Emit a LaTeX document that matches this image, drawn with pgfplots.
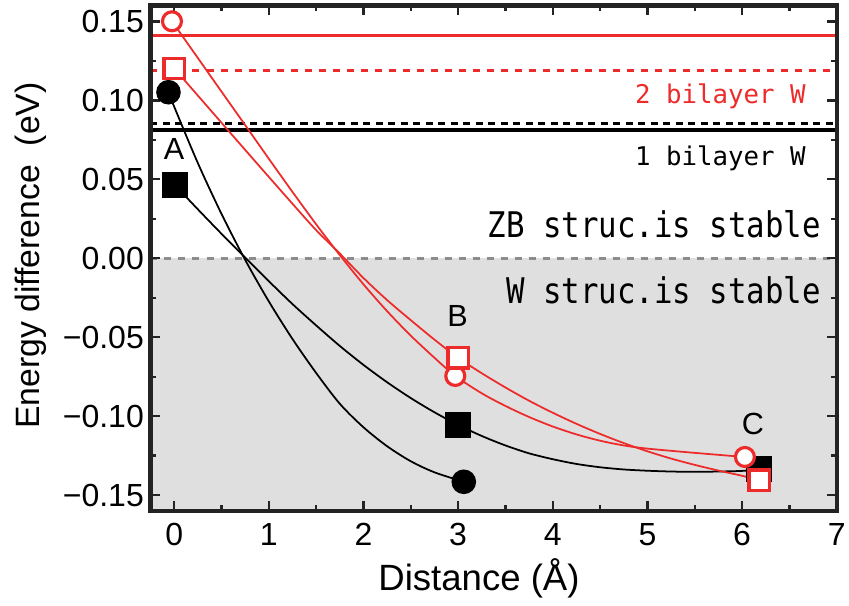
\documentclass[border=0pt]{standalone}
\usepackage{fontspec}
\setmainfont{Liberation Sans}
\newfontfamily\monofont{DejaVu Sans Mono}
\usepackage{graphicx}
\usepackage{pgfplots}
\pgfplotsset{compat=1.18}

\definecolor{myred}{RGB}{237,43,43}
\definecolor{shade}{RGB}{223,223,223}
\definecolor{zerogray}{RGB}{140,140,140}
\definecolor{framec}{RGB}{35,35,35}

\newcommand{\tickfont}{\fontsize{9.1}{11}\selectfont}
\newcommand{\monotext}[3]{\scalebox{1}[#2]{\fontsize{#1}{#1}\monofont #3}}

\begin{document}
\begin{tikzpicture}
\begin{axis}[
  scale only axis,
  width=6.862cm, height=5.055cm,
  xmin=-0.25, xmax=7, ymin=-0.16, ymax=0.16,
  axis on top,
  axis line style={framec, line width=1.15pt},
  xtick={0,...,7},
  xticklabels={0,1,2,3,4,5,6,7},
  ytick={-0.15,-0.1,-0.05,0,0.05,0.1,0.15},
  yticklabels={−0.15,−0.10,−0.05,0.00,0.05,0.10,0.15},
  minor x tick num=1, minor y tick num=1,
  tick align=inside, xtick pos=both, ytick pos=both,
  major tick length=0.1cm, minor tick length=0.06cm,
  tick style={framec, line width=0.7pt},
  ticklabel style={font=\tickfont},
  yticklabel style={inner sep=1.7pt},
  xlabel={Distance (Å)},
  ylabel={Energy difference\ \ (eV)},
  xlabel style={font=\fontsize{10.4}{12}\selectfont, at={(axis description cs:0.4787,-0.158)}, anchor=base},
  ylabel style={font=\fontsize{9.6}{11}\selectfont, at={(axis description cs:-0.174,0.5054)}, anchor=center},
]

% shaded region: W structure stable
\addplot[draw=none, fill=shade] coordinates {(-0.25,-0.16) (7,-0.16) (7,0) (-0.25,0)} -- cycle;

% reference levels
\addplot[zerogray, line width=0.85pt, dash pattern=on 0.07cm off 0.07cm] coordinates {(-0.25,0) (7,0)};
\addplot[black, line width=0.85pt, dash pattern=on 0.07cm off 0.055cm] coordinates {(-0.25,0.0855) (7,0.0855)};
\addplot[black, line width=1.1pt] coordinates {(-0.25,0.0813) (7,0.0813)};
\addplot[myred, line width=0.85pt, dash pattern=on 0.07cm off 0.07cm] coordinates {(-0.25,0.119) (7,0.119)};
\addplot[myred, line width=0.95pt] coordinates {(-0.25,0.141) (7,0.141)};

% black curves
\addplot[black, line width=0.5pt, smooth, mark=none] coordinates {
  (-0.06,0.1051) (0.0,0.0960) (0.25,0.0603) (0.5,0.0281) (0.75,-0.0010) (1.0,-0.0273)
  (1.25,-0.0511) (1.5,-0.0726) (1.75,-0.0921) (2.0,-0.1070) (2.25,-0.1190)
  (2.5,-0.1285) (2.75,-0.1355) (3.06,-0.1415)};
\addplot[black, line width=0.5pt, smooth, mark=none] coordinates {
  (0.01,0.0462) (0.25,0.0310) (0.5,0.0155) (0.75,0.0005) (1.0,-0.0145) (1.25,-0.0290)
  (1.5,-0.0425) (1.75,-0.0555) (2.0,-0.0675) (2.25,-0.0785) (2.5,-0.0885) (2.75,-0.0975)
  (3.0,-0.1055) (3.25,-0.1125) (3.5,-0.1185) (3.75,-0.1235) (4.0,-0.1272) (4.25,-0.1302)
  (4.5,-0.1323) (4.75,-0.1337) (5.0,-0.1345) (5.25,-0.1350) (5.5,-0.1352) (5.75,-0.1350)
  (6.0,-0.1346) (6.18,-0.1336)};

% black markers
\addplot[only marks, mark=*, mark size=3.3pt, black] coordinates {(-0.06,0.1051) (3.06,-0.1415)};
\addplot[only marks, mark=square*, mark size=3.5pt, black] coordinates {(0.01,0.0462) (3.0,-0.1055) (6.18,-0.1336)};

% red curves
\addplot[myred, line width=0.5pt, smooth, mark=none] coordinates {
  (-0.023,0.1500) (0.25,0.1268) (0.5,0.1055) (0.75,0.0843) (1.0,0.0630) (1.25,0.0420)
  (1.5,0.0215) (1.75,0.0020) (2.0,-0.0165) (2.25,-0.0335) (2.5,-0.0490) (2.75,-0.0630)
  (2.97,-0.0745) (3.25,-0.0855) (3.5,-0.0935) (3.75,-0.1005) (4.0,-0.1065) (4.25,-0.1115)
  (4.5,-0.1155) (4.75,-0.1185) (5.0,-0.1205) (5.5,-0.1232) (6.03,-0.1258)};
\addplot[myred, line width=0.5pt, smooth, mark=none] coordinates {
  (0.0,0.1202) (0.25,0.1030) (0.5,0.0858) (0.75,0.0686) (1.0,0.0515) (1.25,0.0345)
  (1.5,0.0178) (1.75,0.0030) (2.0,-0.0125) (2.25,-0.0265) (2.5,-0.0392) (2.75,-0.0515)
  (3.0,-0.0630) (3.25,-0.0728) (3.5,-0.0818) (3.75,-0.0902) (4.0,-0.0978) (4.25,-0.1048)
  (4.5,-0.1112) (4.75,-0.1170) (5.0,-0.1222) (5.25,-0.1268) (5.5,-0.1308) (5.75,-0.1344)
  (6.0,-0.1377) (6.18,-0.1405)};

% red markers
\addplot[only marks, mark=*, mark size=2.7pt, mark options={fill=white, draw=myred, line width=0.9pt}] coordinates {(-0.023,0.1500) (2.97,-0.0745) (6.03,-0.1258)};
\addplot[only marks, mark=square*, mark size=2.9pt, mark options={fill=white, draw=myred, line width=0.9pt}] coordinates {(0.0,0.1202) (3.0,-0.0630) (6.18,-0.1405)};

% annotations
\node[anchor=base east, inner sep=0, text=myred] at (axis cs:6.68,0.098) {\monotext{7.33}{1.0}{2 bilayer W}};
\node[anchor=base east, inner sep=0] at (axis cs:6.68,0.0588) {\monotext{7.33}{1.0}{1 bilayer W}};
\node[anchor=base east, inner sep=0] at (axis cs:6.84,0.0133) {\monotext{8.74}{1.15}{ZB struc.is stable}};
\node[anchor=base east, inner sep=0] at (axis cs:6.84,-0.0289) {\monotext{8.74}{1.15}{W struc.is stable}};

\node[anchor=base, inner sep=0, font=\fontsize{8.7}{10}\selectfont] at (axis cs:0.0,0.0624) {A};
\node[anchor=base, inner sep=0, font=\fontsize{8.7}{10}\selectfont] at (axis cs:2.995,-0.0433) {B};
\node[anchor=base, inner sep=0, font=\fontsize{8.7}{10}\selectfont] at (axis cs:6.115,-0.1114) {C};

\coordinate (bbl) at (rel axis cs:-0.2193,-0.186);
\coordinate (btr) at (rel axis cs:1.0179,1.0109);
\end{axis}
\pgfresetboundingbox
\path[use as bounding box] (bbl) rectangle (btr);
\end{tikzpicture}
\end{document}
